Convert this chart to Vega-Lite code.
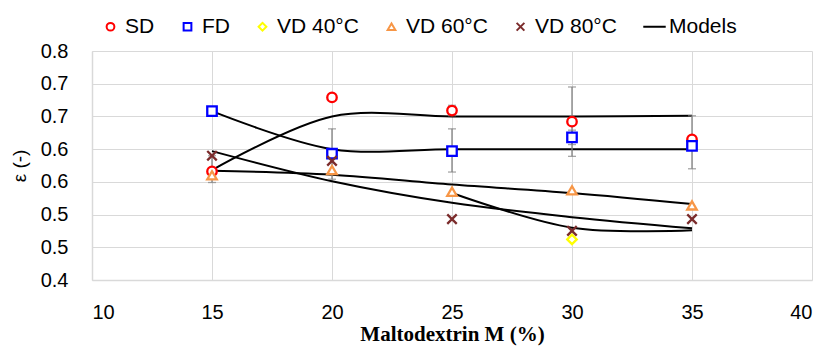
{
  "$schema": "https://vega.github.io/schema/vega-lite/v6.json",
  "width": 720,
  "height": 229,
  "autosize": {"type": "none"},
  "padding": {"left": 92, "top": 51, "right": 15, "bottom": 71},
  "background": "white",
  "config": {
    "view": {"stroke": null},
    "font": "Liberation Sans",
    "axis": {
      "grid": true,
      "gridColor": "#d9d9d9",
      "gridWidth": 1,
      "domainColor": "#d9d9d9",
      "domainWidth": 1.5,
      "ticks": false,
      "tickSize": 0,
      "labelFont": "Liberation Sans",
      "labelFontSize": 20,
      "labelColor": "#000000",
      "labelOverlap": false
    },
    "legend": {
      "labelFont": "Liberation Sans",
      "labelFontSize": 21,
      "labelColor": "#000000"
    }
  },
  "datasets": {
    "points": [
      {"series": "SD", "M": 15, "eps": 0.566},
      {"series": "SD", "M": 20, "eps": 0.679},
      {"series": "SD", "M": 25, "eps": 0.659},
      {"series": "SD", "M": 30, "eps": 0.642},
      {"series": "SD", "M": 35, "eps": 0.615},
      {"series": "FD", "M": 15, "eps": 0.658},
      {"series": "FD", "M": 20, "eps": 0.593},
      {"series": "FD", "M": 25, "eps": 0.597},
      {"series": "FD", "M": 30, "eps": 0.618},
      {"series": "FD", "M": 35, "eps": 0.605},
      {"series": "VD 40°C", "M": 30, "eps": 0.462},
      {"series": "VD 60°C", "M": 15, "eps": 0.560},
      {"series": "VD 60°C", "M": 20, "eps": 0.568},
      {"series": "VD 60°C", "M": 25, "eps": 0.535},
      {"series": "VD 60°C", "M": 30, "eps": 0.537},
      {"series": "VD 60°C", "M": 35, "eps": 0.514},
      {"series": "VD 80°C", "M": 15, "eps": 0.590},
      {"series": "VD 80°C", "M": 20, "eps": 0.582},
      {"series": "VD 80°C", "M": 25, "eps": 0.493},
      {"series": "VD 80°C", "M": 30, "eps": 0.475},
      {"series": "VD 80°C", "M": 35, "eps": 0.493}
    ],
    "errors": [
      {"series": "SD", "M": 15, "low": 0.549, "high": 0.590},
      {"series": "FD", "M": 20, "low": 0.554, "high": 0.631},
      {"series": "SD", "M": 25, "low": 0.651, "high": 0.667},
      {"series": "FD", "M": 25, "low": 0.565, "high": 0.631},
      {"series": "SD", "M": 30, "low": 0.589, "high": 0.695},
      {"series": "FD", "M": 30, "low": 0.607, "high": 0.629},
      {"series": "SD", "M": 35, "low": 0.570, "high": 0.651}
    ],
    "models": [
      {"model": "SD", "M": 15, "eps": 0.568},
      {"model": "SD", "M": 20, "eps": 0.650},
      {"model": "SD", "M": 25, "eps": 0.650},
      {"model": "SD", "M": 30, "eps": 0.650},
      {"model": "SD", "M": 35, "eps": 0.651},
      {"model": "FD", "M": 15, "eps": 0.658},
      {"model": "FD", "M": 20, "eps": 0.600},
      {"model": "FD", "M": 25, "eps": 0.600},
      {"model": "FD", "M": 30, "eps": 0.600},
      {"model": "FD", "M": 35, "eps": 0.600},
      {"model": "VD 60°C", "M": 15, "eps": 0.567},
      {"model": "VD 60°C", "M": 20, "eps": 0.561},
      {"model": "VD 60°C", "M": 25, "eps": 0.546},
      {"model": "VD 60°C", "M": 30, "eps": 0.533},
      {"model": "VD 60°C", "M": 35, "eps": 0.516},
      {"model": "VD 80°C", "M": 15, "eps": 0.597},
      {"model": "VD 80°C", "M": 20, "eps": 0.551},
      {"model": "VD 80°C", "M": 25, "eps": 0.518},
      {"model": "VD 80°C", "M": 30, "eps": 0.496},
      {"model": "VD 80°C", "M": 35, "eps": 0.479},
      {"model": "VD 40°C", "M": 25, "eps": 0.533},
      {"model": "VD 40°C", "M": 30, "eps": 0.480},
      {"model": "VD 40°C", "M": 35, "eps": 0.476}
    ]
  },
  "encoding": {
    "x": {
      "field": "M",
      "type": "quantitative",
      "scale": {"domain": [10, 40], "nice": false},
      "axis": {
        "values": [10, 15, 20, 25, 30, 35, 40],
        "labelPadding": 22,
        "title": "Maltodextrin M (%)",
        "titleFont": "Liberation Serif",
        "titleFontWeight": "bold",
        "titleFontSize": 21,
        "titleColor": "#000000",
        "titlePadding": 1
      }
    }
  },
  "layer": [
    {
      "data": {"name": "models"},
      "mark": {"type": "line", "interpolate": "catmull-rom", "color": "#000000", "strokeWidth": 2},
      "encoding": {
        "y": {
          "field": "eps",
          "type": "quantitative",
          "scale": {"domain": [0.4, 0.75], "nice": false, "zero": false},
          "axis": {
            "values": [0.4, 0.45, 0.5, 0.55, 0.6, 0.65, 0.7, 0.75],
            "format": ".1f",
            "labelPadding": 24,
            "title": "ε (-)",
            "titleFont": "Liberation Sans",
            "titleFontWeight": "normal",
            "titleFontSize": 19,
            "titleColor": "#000000",
            "titlePadding": 11
          }
        },
        "detail": {"field": "model"}
      }
    },
    {
      "data": {"name": "errors"},
      "mark": {"type": "rule", "color": "#808080", "strokeWidth": 1.3},
      "encoding": {
        "y": {
          "field": "low",
          "type": "quantitative",
          "axis": {
            "values": [0.4, 0.45, 0.5, 0.55, 0.6, 0.65, 0.7, 0.75],
            "format": ".1f",
            "labelPadding": 24,
            "title": "ε (-)",
            "titleFont": "Liberation Sans",
            "titleFontWeight": "normal",
            "titleFontSize": 19,
            "titleColor": "#000000",
            "titlePadding": 11
          }
        },
        "y2": {"field": "high"}
      }
    },
    {
      "data": {"name": "errors"},
      "mark": {"type": "tick", "orient": "horizontal", "color": "#808080", "size": 8, "thickness": 1.3},
      "encoding": {
        "y": {
          "field": "low",
          "type": "quantitative",
          "axis": {
            "values": [0.4, 0.45, 0.5, 0.55, 0.6, 0.65, 0.7, 0.75],
            "format": ".1f",
            "labelPadding": 24,
            "title": "ε (-)",
            "titleFont": "Liberation Sans",
            "titleFontWeight": "normal",
            "titleFontSize": 19,
            "titleColor": "#000000",
            "titlePadding": 11
          }
        }
      }
    },
    {
      "data": {"name": "errors"},
      "mark": {"type": "tick", "orient": "horizontal", "color": "#808080", "size": 8, "thickness": 1.3},
      "encoding": {
        "y": {
          "field": "high",
          "type": "quantitative",
          "axis": {
            "values": [0.4, 0.45, 0.5, 0.55, 0.6, 0.65, 0.7, 0.75],
            "format": ".1f",
            "labelPadding": 24,
            "title": "ε (-)",
            "titleFont": "Liberation Sans",
            "titleFontWeight": "normal",
            "titleFontSize": 19,
            "titleColor": "#000000",
            "titlePadding": 11
          }
        }
      }
    },
    {
      "data": {"name": "points"},
      "mark": {"type": "point", "filled": false, "fill": "white", "strokeWidth": 2.3, "size": 90, "opacity": 1},
      "encoding": {
        "y": {
          "field": "eps",
          "type": "quantitative",
          "axis": {
            "values": [0.4, 0.45, 0.5, 0.55, 0.6, 0.65, 0.7, 0.75],
            "format": ".1f",
            "labelPadding": 24,
            "title": "ε (-)",
            "titleFont": "Liberation Sans",
            "titleFontWeight": "normal",
            "titleFontSize": 19,
            "titleColor": "#000000",
            "titlePadding": 11
          }
        },
        "color": {
          "field": "series",
          "type": "nominal",
          "scale": {
            "domain": ["SD", "FD", "VD 40°C", "VD 60°C", "VD 80°C", "Models"],
            "range": ["#ff0000", "#0000ff", "#ffff00", "#f79646", "#7b2c2c", "#000000"]
          },
          "legend": {
            "title": null,
            "orient": "none",
            "direction": "horizontal",
            "legendX": 8,
            "legendY": -35,
            "padding": 0,
            "symbolSize": 60,
            "symbolStrokeWidth": 2,
            "labelOffset": 4,
            "columnPadding": 22
          }
        },
        "shape": {
          "field": "series",
          "type": "nominal",
          "scale": {
            "domain": ["SD", "FD", "VD 40°C", "VD 60°C", "VD 80°C", "Models"],
            "range": ["circle", "square", "diamond", "triangle-up", "M-1,-1L1,1M-1,1L1,-1", "M-2.9,0H2.9"]
          }
        }
      }
    }
  ]
}
